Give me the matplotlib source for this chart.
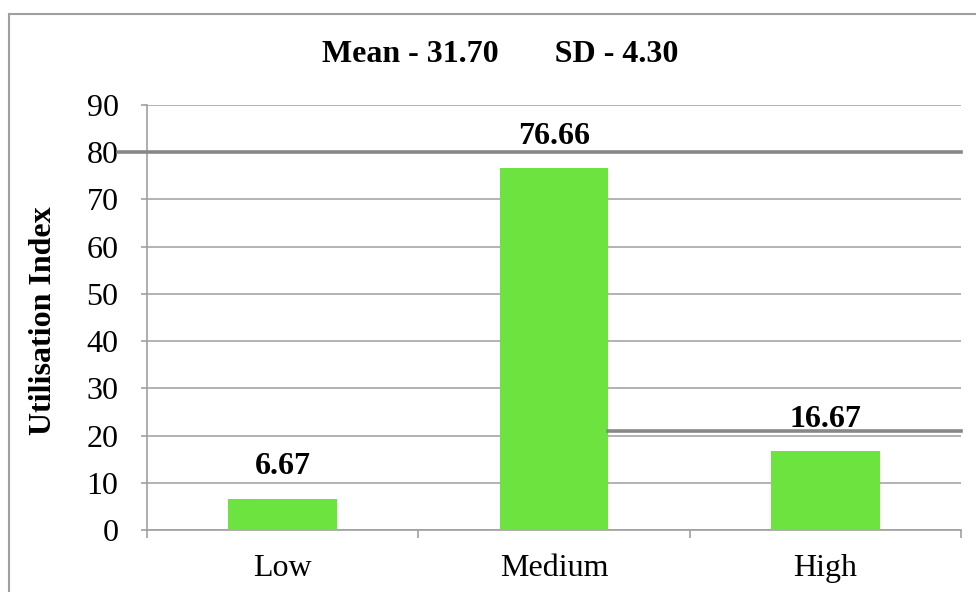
import numpy as np
import matplotlib.pyplot as plt
from matplotlib.patches import Rectangle

# Data
categories = ['Low', 'Medium', 'High']
values = [6.67, 76.66, 16.67]
y_ticks = [0, 10, 20, 30, 40, 50, 60, 70, 80, 90]
title_text = 'Mean - 31.70       SD - 4.30'
y_label = 'Utilisation Index'

# Two darker horizontal strokes that appear in the scanned original
stroke_levels = [80, 21]
stroke_starts = [-0.036, 0.566]   # axes fraction where each stroke begins

plt.rcParams['font.family'] = ['Liberation Serif', 'DejaVu Serif']

fig = plt.figure(figsize=(9.76, 5.92), dpi=100)
W, H = 976, 592
ax = fig.add_axes([147 / W, 1 - 530 / H, (961 - 147) / W, (530 - 105) / H])

x = np.arange(len(categories))
ax.bar(x, values, width=0.4, color='#6DE33F', zorder=3)

ax.set_xlim(-0.5, 2.5)
ax.set_ylim(0, 90)
ax.set_yticks(y_ticks)
ax.yaxis.grid(True, color='#A6A6A6', linewidth=1.2, zorder=0)

# x labels at centres, tick marks at category boundaries
ax.set_xticks(x)
ax.set_xticklabels(categories, fontsize=23)
ax.set_xticks(np.arange(-0.5, 3.0, 1.0), minor=True)
ax.tick_params(axis='x', which='major', length=0, pad=17)
ax.tick_params(axis='x', which='minor', length=6, color='#A0A0A0', width=1.2)
ax.tick_params(axis='y', length=4.5, color='#A0A0A0', width=1.2, labelsize=23, pad=16)

for side in ['top', 'right']:
    ax.spines[side].set_visible(False)
for side in ['left', 'bottom']:
    ax.spines[side].set_color('#A0A0A0')
    ax.spines[side].set_linewidth(1.2)

for lvl, start in zip(stroke_levels, stroke_starts):
    ax.axhline(lvl, xmin=start, xmax=1, color='#888888', linewidth=2.6,
               clip_on=False, zorder=4)

# value labels
for xi, v in zip(x, values):
    ax.annotate(f'{v:.2f}', (xi, v), xytext=(0, 23), textcoords='offset points',
                ha='center', va='center', fontsize=23, fontweight='bold', zorder=5)

ax.set_ylabel(y_label, fontsize=23, fontweight='bold')
ax.yaxis.set_label_coords((58 - 147) / (961 - 147), (530 - 321) / (530 - 105))

fig.text(500 / W, 1 - 55 / H, title_text, ha='center', va='center',
         fontsize=23, fontweight='bold')

# outer frame of the chart area
fig.patches.append(Rectangle((9 / W, -0.1), 1.0, 1 - 14 / H + 0.1,
                             transform=fig.transFigure, fill=False,
                             edgecolor='#A0A0A0', linewidth=1.5))

fig.savefig('out.png', dpi=100)
